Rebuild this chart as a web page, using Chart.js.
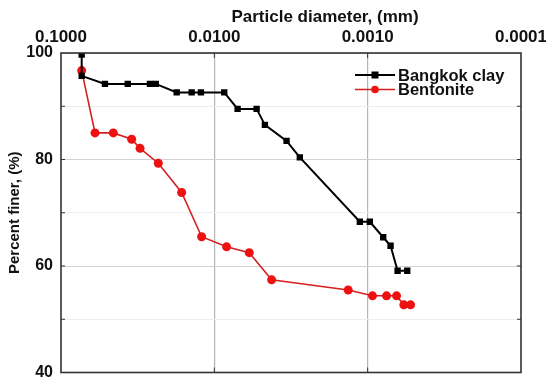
<!DOCTYPE html>
<html lang="en">
<head>
  <meta charset="UTF-8">
  <title>Particle size distribution</title>
  <script src="https://cdn.jsdelivr.net/npm/chart.js"></script>
  <style>
    html, body { margin: 0; padding: 0; background: #fff; }
    #wrap { width: 546px; height: 383px; }
  </style>
</head>
<body>
  <div id="wrap"><canvas id="psdChart" width="546" height="383"></canvas></div>

  <script>
    // particle diameter (mm) and percent finer (%)
    const clayDiam = [0.0733, 0.0733, 0.0517, 0.0367, 0.0263, 0.0241, 0.0176, 0.01406, 0.01223, 0.00862,
                      0.00705, 0.0053, 0.00468, 0.00338, 0.00277, 0.001125, 0.000968, 0.000792, 0.000709, 0.000638, 0.000552];
    const clayFiner = [99.7, 95.7, 94.2, 94.2, 94.2, 94.2, 92.6, 92.6, 92.6, 92.6,
                       89.5, 89.5, 86.5, 83.5, 80.4, 68.3, 68.3, 65.4, 63.8, 59.1, 59.1];
    const bentDiam = [0.0733, 0.060, 0.0456, 0.0346, 0.0305, 0.0232, 0.01634, 0.0121, 0.00832, 0.00592,
                      0.00423, 0.00134, 0.00093, 0.000753, 0.000648, 0.000581, 0.000525];
    const bentFiner = [96.7, 85.0, 85.0, 83.8, 82.1, 79.3, 73.8, 65.5, 63.6, 62.5,
                       57.4, 55.5, 54.4, 54.4, 54.4, 52.7, 52.7];
    const xTicks = [0.1, 0.01, 0.001, 0.0001];
    const seriesNames = ['Bangkok clay', 'Bentonite'];
    const xTitle = 'Particle diameter, (mm)';

    const FONT = 'Liberation Sans, Arial, sans-serif';

    function pairs(xs, ys) {
      return xs.map((x, i) => ({ x: x, y: ys[i] }));
    }

    // frame round the plot + small inner tick marks + top title (sits right of centre in the original)
    const framePlugin = {
      id: 'frame',
      afterDraw(chart) {
        const { ctx, chartArea: a, scales } = chart;
        ctx.save();
        ctx.strokeStyle = '#333';
        ctx.lineWidth = 1;
        [50, 60, 70, 80, 90].forEach(v => {
          const y = scales.y.getPixelForValue(v);
          ctx.beginPath();
          ctx.moveTo(a.left, y); ctx.lineTo(a.left + 4, y);
          ctx.moveTo(a.right, y); ctx.lineTo(a.right - 4, y);
          ctx.stroke();
        });
        [0.01, 0.001].forEach(v => {
          const x = scales.x.getPixelForValue(v);
          ctx.beginPath();
          ctx.moveTo(x, a.top); ctx.lineTo(x, a.top + 5);
          ctx.moveTo(x, a.bottom); ctx.lineTo(x, a.bottom - 5);
          ctx.stroke();
        });
        ctx.lineWidth = 1.6;
        ctx.strokeRect(a.left, a.top, a.right - a.left, a.bottom - a.top);

        ctx.fillStyle = '#111';
        ctx.font = 'bold 17px ' + FONT;
        ctx.textAlign = 'center';
        ctx.textBaseline = 'middle';
        ctx.fillText(xTitle, 325, 17);
        ctx.restore();
      }
    };

    // legend drawn inside the plot, upper right
    const insideLegend = {
      id: 'insideLegend',
      afterDraw(chart) {
        const { ctx, chartArea: a } = chart;
        const x0 = a.right - 166, y0 = a.top + 22, gap = 14.5;
        ctx.save();
        chart.data.datasets.forEach((ds, i) => {
          const y = y0 + i * gap;
          ctx.strokeStyle = ds.borderColor;
          ctx.lineWidth = ds.borderWidth;
          ctx.beginPath();
          ctx.moveTo(x0, y); ctx.lineTo(x0 + 40, y);
          ctx.stroke();
          ctx.fillStyle = ds.backgroundColor;
          if (ds.pointStyle === 'rect') {
            ctx.fillRect(x0 + 16.5, y - 3.5, 7, 7);
          } else {
            ctx.beginPath();
            ctx.arc(x0 + 20, y, 3.8, 0, Math.PI * 2);
            ctx.fill();
          }
          ctx.fillStyle = '#111';
          ctx.font = 'bold 16.5px ' + FONT;
          ctx.textBaseline = 'middle';
          ctx.fillText(ds.label, x0 + 43, y + 1);
        });
        ctx.restore();
      }
    };

    const ctx = document.getElementById('psdChart').getContext('2d');
    new Chart(ctx, {
      type: 'line',
      data: {
        datasets: [{
          label: seriesNames[0],
          data: pairs(clayDiam, clayFiner),
          borderColor: '#000',
          backgroundColor: '#000',
          borderWidth: 2,
          pointStyle: 'rect',
          pointRadius: 4.5,
          pointBorderWidth: 0,
          tension: 0
        }, {
          label: seriesNames[1],
          data: pairs(bentDiam, bentFiner),
          borderColor: '#d42020',
          backgroundColor: '#ee1111',
          borderWidth: 1.6,
          pointStyle: 'circle',
          pointRadius: 4.5,
          pointBorderWidth: 0,
          tension: 0
        }]
      },
      options: {
        responsive: false,
        animation: false,
        layout: { padding: { left: 0, right: 25, top: 0, bottom: 10.5 } },
        plugins: {
          legend: { display: false },
          tooltip: { enabled: false }
        },
        scales: {
          x: {
            type: 'logarithmic',
            position: 'top',
            reverse: true,
            min: 0.0001,
            max: 0.1,
            afterBuildTicks: scale => { scale.ticks = xTicks.map(v => ({ value: v })); },
            afterFit: scale => {
              scale.height = 53;
              scale.paddingLeft = 0;
              scale.paddingRight = 0;
            },
            border: { display: false },
            grid: {
              drawTicks: false,
              color: c => (c.tick && (c.tick.value === 0.01 || c.tick.value === 0.001)) ? '#b5b5b5' : 'rgba(0,0,0,0)',
              lineWidth: 1.2
            },
            ticks: {
              autoSkip: false,
              maxRotation: 0,
              padding: 5,
              color: '#111',
              font: { family: FONT, size: 17, weight: 'bold' },
              callback: v => Number(v).toFixed(4)
            },
            title: { display: false }
          },
          y: {
            min: 40,
            max: 100,
            afterFit: scale => {
              scale.width = 61;
              scale.paddingTop = 0;
              scale.paddingBottom = 0;
            },
            border: { display: false },
            grid: {
              drawTicks: false,
              color: c => (c.tick && c.tick.value % 20 === 0) ? '#d2d2d2' : '#ededed',
              lineWidth: 1
            },
            ticks: {
              stepSize: 10,
              padding: 8,
              color: '#111',
              font: { family: FONT, size: 16, weight: 'bold' },
              callback: v => (v % 20 === 0 ? v : '')
            },
            title: {
              display: true,
              text: 'Percent finer, (%)',
              color: '#111',
              font: { family: FONT, size: 15, weight: 'bold' },
              padding: { top: 6, bottom: 4 }
            }
          }
        }
      },
      plugins: [framePlugin, insideLegend]
    });
  </script>
</body>
</html>
